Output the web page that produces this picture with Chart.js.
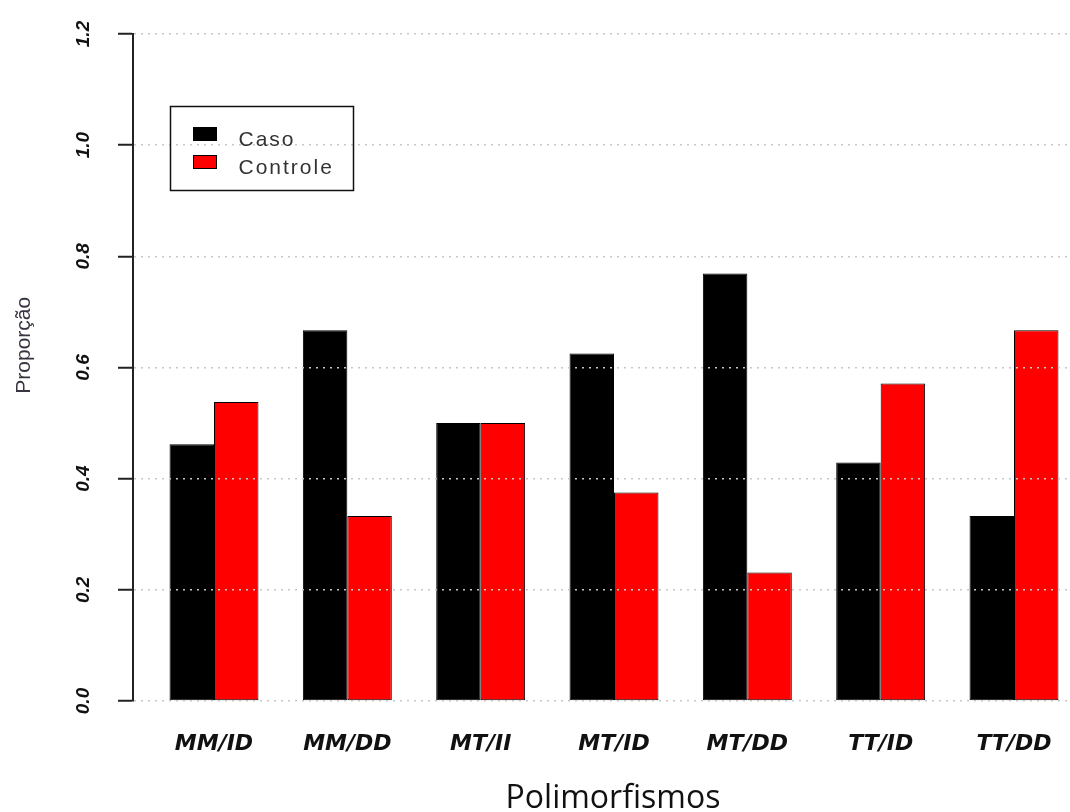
<!DOCTYPE html>
<html lang="pt">
<head>
<meta charset="UTF-8">
<title>Proporção por polimorfismo</title>
<script src="https://cdn.jsdelivr.net/npm/chart.js"></script>
<style>
  html, body { margin: 0; padding: 0; background: #fff; overflow: hidden; }
  #wrap { width: 1096px; height: 812px; }
</style>
</head>
<body>
<div id="wrap"><canvas id="chart" width="1096" height="812"></canvas></div>
<script>
  // data
  const categories = ['MM/ID', 'MM/DD', 'MT/II', 'MT/ID', 'MT/DD', 'TT/ID', 'TT/DD'];
  const caso = [0.462, 0.667, 0.500, 0.625, 0.769, 0.429, 0.333];
  const controle = [0.538, 0.333, 0.500, 0.375, 0.231, 0.571, 0.667];
  const yTicks = [0.0, 0.2, 0.4, 0.6, 0.8, 1.0, 1.2];

  const axisFont = '"Liberation Sans", Arial, sans-serif';

  // R-style boxed legend + rotated y title
  const extras = {
    id: 'extras',
    afterDraw(chart) {
      const { ctx, scales: { x, y } } = chart;
      const left = Math.round(x.getPixelForValue(0.67)) + 0.5;
      const top = Math.round(y.getPixelForValue(1.07)) + 0.5;
      ctx.save();
      ctx.lineWidth = 1.5;
      ctx.strokeStyle = '#111';
      ctx.strokeRect(left, top, 183, 84);
      ctx.font = '21px ' + axisFont;
      ctx.letterSpacing = '2px';
      ctx.textBaseline = 'alphabetic';
      chart.data.datasets.forEach((ds, i) => {
        const sy = top + 21 + i * 28;
        ctx.fillStyle = ds.backgroundColor;
        ctx.fillRect(left + 23, sy, 23, 13);
        ctx.lineWidth = 1;
        ctx.strokeStyle = '#000';
        ctx.strokeRect(left + 23, sy, 23, 13);
        ctx.fillStyle = '#333';
        ctx.fillText(ds.label, left + 68, sy + 18);
      });
      ctx.letterSpacing = '0px';
      // y axis title
      ctx.translate(24, y.getPixelForValue(0.64));
      ctx.rotate(-Math.PI / 2);
      ctx.font = '21px ' + axisFont;
      ctx.fillStyle = '#3a3440';
      ctx.textAlign = 'center';
      ctx.textBaseline = 'middle';
      ctx.fillText('Proporção', 0, 0);
      ctx.restore();
    }
  };

  new Chart(document.getElementById('chart'), {
    type: 'bar',
    data: {
      datasets: [
        {
          label: 'Caso',
          data: categories.map((c, i) => ({ x: i + 1, y: caso[i] })),
          backgroundColor: '#000000',
          borderColor: '#000000',
          borderWidth: 1,
          borderSkipped: false
        },
        {
          label: 'Controle',
          data: categories.map((c, i) => ({ x: i + 1, y: controle[i] })),
          backgroundColor: '#ff0000',
          borderColor: '#000000',
          borderWidth: 1,
          borderSkipped: false
        }
      ]
    },
    options: {
      responsive: false,
      animation: false,
      categoryPercentage: 0.667,
      barPercentage: 1,
      layout: { padding: { top: 34, right: 3, bottom: 0, left: 0 } },
      plugins: {
        legend: { display: false },
        tooltip: { enabled: false }
      },
      scales: {
        x: {
          type: 'linear',
          offset: false,
          min: 0.3925,
          max: 7.5925,
          afterBuildTicks: s => { s.ticks = categories.map((c, i) => ({ value: i + 1 })); },
          afterFit: s => { s.height = 111; },
          grid: { display: false, drawTicks: false, offset: false },
          border: { display: false },
          ticks: {
            padding: 30,
            color: '#111',
            font: { family: '"DejaVu Sans", sans-serif', size: 22, weight: 'bold', style: 'italic' },
            callback: v => categories[v - 1]
          },
          title: {
            display: true,
            text: 'Polimorfismos',
            color: '#111',
            font: { family: '"Open Sans", sans-serif', size: 32, lineHeight: 0.8 },
            padding: { top: 0, bottom: 0 }
          }
        },
        y: {
          min: 0,
          max: 1.2,
          afterBuildTicks: s => { s.ticks = yTicks.map(v => ({ value: v })); },
          afterFit: s => { s.width = 133; },
          grid: {
            color: '#c8c8c8',
            lineWidth: 1.5,
            z: 1,
            tickLength: 15,
            tickColor: '#222',
            tickWidth: 2,
            tickBorderDash: []
          },
          border: { display: true, color: '#222', width: 2, dash: [2, 5], z: 2 },
          ticks: {
            padding: 21,
            crossAlign: 'center',
            minRotation: 90,
            maxRotation: 90,
            color: '#111',
            font: { family: axisFont, size: 19, weight: 'bold', style: 'italic' },
            callback: v => v.toFixed(1)
          }
        }
      }
    },
    plugins: [extras]
  });
</script>
</body>
</html>
